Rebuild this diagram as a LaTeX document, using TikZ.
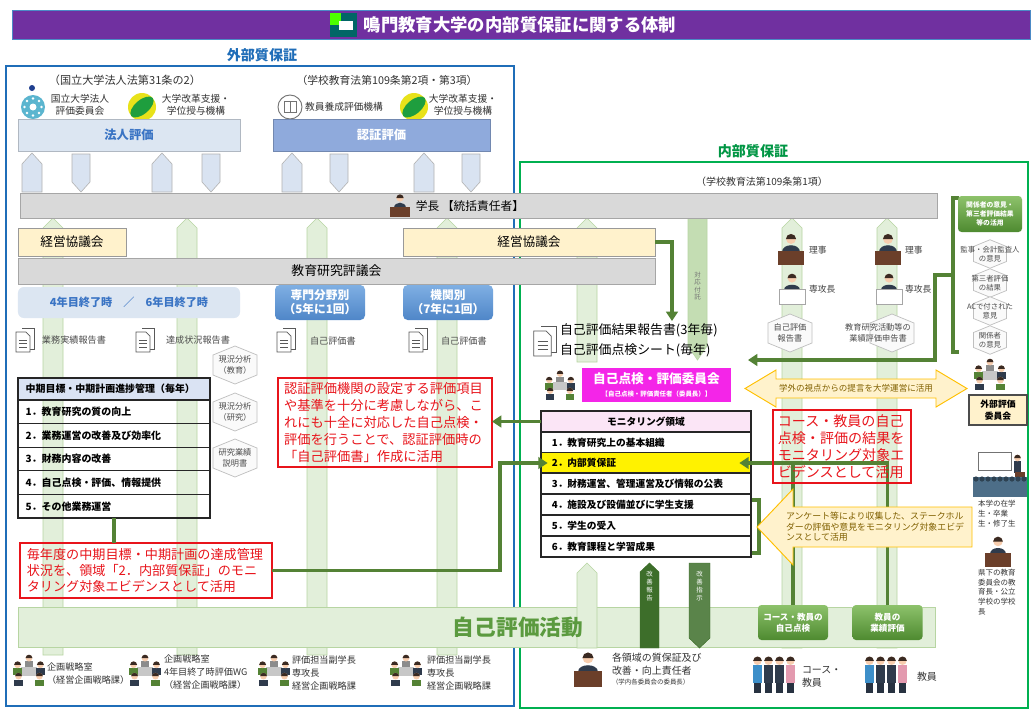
\documentclass[tikz,border=0pt]{standalone}
\usepackage{fontspec}
\setmainfont{Noto Sans CJK JP}
\usetikzlibrary{arrows.meta}

\definecolor{titlepurple}{HTML}{7030A0}
\definecolor{outblue}{HTML}{1F6DB8}
\definecolor{ingreen}{HTML}{00B050}
\definecolor{linkgreen}{HTML}{548235}
\definecolor{palegreen}{HTML}{E2EFDA}
\definecolor{paleedge}{HTML}{B7D5A2}
\definecolor{bandgray}{HTML}{D9D9D9}
\definecolor{cream}{HTML}{FFF2CC}
\definecolor{hojinblue}{HTML}{DCE6F2}
\definecolor{ninblue}{HTML}{8FAADC}
\definecolor{liftblue}{HTML}{D9E3F1}
\definecolor{headblue}{HTML}{3A74C4}
\definecolor{tabhead}{HTML}{DAE3F3}
\definecolor{monhead}{HTML}{FBE5F6}
\definecolor{committee}{HTML}{F425E8}
\definecolor{noteyellow}{HTML}{FFC000}
\definecolor{notefill}{HTML}{FFF2CC}
\definecolor{notetext}{HTML}{806000}
\definecolor{redline}{HTML}{E8141B}
\definecolor{btntop}{HTML}{8DC26B}
\definecolor{btnbot}{HTML}{4E8A30}
\definecolor{kaizen}{HTML}{3D6E2A}
\definecolor{acttext}{HTML}{5B9A3F}
\definecolor{skin}{HTML}{F7CDAE}
\definecolor{hair}{HTML}{3A2A22}
\definecolor{suit}{HTML}{2F3B4C}
\definecolor{desk}{HTML}{6B3F2A}
\definecolor{scrub}{HTML}{3D8FC9}
\definecolor{pinkcoat}{HTML}{E39AAF}
\definecolor{crowd}{HTML}{4D6E88}
\definecolor{niadgreen}{HTML}{1E9E3E}
\definecolor{niadyellow}{HTML}{E8E21A}
\definecolor{jaqblue}{HTML}{5BB5CF}
\definecolor{markblue}{HTML}{1F3F8F}
\definecolor{blueupper}{HTML}{7FAFE3}
\definecolor{bluelower}{HTML}{4F86C8}

\newcommand\fs[2]{\fontsize{#1}{#2}\selectfont}

\begin{document}
\begin{tikzpicture}[x=0.03cm, y=-0.03cm,
  every node/.style={inner sep=0pt, outer sep=0pt},
  band/.style={draw=black!35, fill=bandgray, line width=0.6pt},
  council/.style={draw=black!40, fill=cream, line width=0.6pt, minimum height=0.84cm, font=\fs{10.8}{13}},
  pillar/.style={draw=paleedge, fill=palegreen, line width=0.5pt},
  lift/.style={draw=black!30, fill=liftblue, line width=0.5pt},
  periodbox/.style={rounded corners=4pt, top color=blueupper, bottom color=bluelower, text=white, align=center, font=\fs{10}{12}\bfseries, minimum width=2.7cm, minimum height=1.05cm},
  doclabel/.style={anchor=west, text=black!70, font=\fs{7.8}{9}},
  hexlabel/.style={align=center, text=black!70, font=\fs{7}{9}},
  ltab/.style={draw=black!85, line width=0.9pt, minimum width=5.76cm, minimum height=0.708cm, text width=5.3cm, align=left, font=\fs{8.5}{10}\bfseries},
  mtab/.style={draw=black!85, line width=0.9pt, fill=white, minimum width=6.3cm, minimum height=0.63cm, text width=5.65cm, align=left, font=\fs{8.3}{10}\bfseries},
  rednote/.style={draw=redline, line width=1pt, text=redline, align=left},
  cyclebtn/.style={rounded corners=3pt, top color=btntop, bottom color=btnbot, text=white, align=center, font=\fs{7.3}{9.5}\bfseries, minimum width=2.1cm, minimum height=1.05cm},
  who/.style={anchor=west, align=left, text=black!80, font=\fs{7.8}{11}},
  gline/.style={draw=linkgreen, line width=3pt},
  gtip/.style={-{Triangle[length=8pt,width=10pt]}},
  note/.style={draw=noteyellow, fill=notefill, line width=0.8pt},
  docicon/.pic={
    \draw[black!65, line width=0.6pt, fill=white] (-3,-12) -- (9,-12) -- (9,9) -- (5,9);
    \draw[black!65, line width=0.6pt, fill=white] (-9,-8) -- (1,-8) -- (5,-4) -- (5,12) -- (-9,12) -- cycle;
    \foreach \ly in {0,3.5,7} \draw[black!65, line width=0.6pt] (-6,\ly) -- (2,\ly);
  },
  hexmark/.pic={
    \draw[black!25, fill=black!2, line width=0.6pt] (0,-19) -- (22,-10) -- (22,10) -- (0,19) -- (-22,10) -- (-22,-10) -- cycle;
  },
  boss/.pic={
    \fill[suit] (-8,2) .. controls (-8,-6) and (8,-6) .. (8,2) -- cycle;
    \fill[skin] (0,-10) circle (4.5);
    \fill[hair] (-4.6,-10) arc (180:360:4.6) -- cycle;
    \fill[desk] (-12,1) rectangle (12,14);
  },
  clerk/.pic={
    \fill[suit] (-7,3) .. controls (-7,-4) and (7,-4) .. (7,3) -- cycle;
    \fill[skin] (0,-8) circle (4);
    \fill[hair] (-4.1,-8) arc (180:360:4.1) -- cycle;
    \draw[black!35, fill=white, line width=0.5pt] (-12,2) rectangle (12,16);
  },
  meeting/.pic={
    \fill[black!45] (-4.5,-9) rectangle (4.5,-1);
    \fill[skin] (0,-12.5) circle (3.5);
    \fill[hair] (-3.6,-12.5) arc (180:360:3.6) -- cycle;
    \fill[black!22] (-8,-3) rectangle (8,6);
    \foreach \mx/\my/\mc in {-12/-3/linkgreen, 12/-3/suit, -11/9/suit, 11/9/linkgreen} {
      \fill[\mc] (\mx-4.5,\my+1) rectangle (\mx+4.5,\my+8);
      \fill[skin] (\mx,\my-2.5) circle (3.5);
      \fill[hair] (\mx-3.6,\my-2.5) arc (180:360:3.6) -- cycle;
    }
  },
  staff/.pic={
    \foreach \mx/\mc in {-15/scrub, -5/suit, 5/suit, 15/pinkcoat} {
      \fill[suit!85!black] (\mx-3,7) rectangle (\mx+3,17);
      \fill[\mc] (\mx-4.2,-8) rectangle (\mx+4.2,8);
      \fill[skin] (\mx,-12) circle (3.8);
      \fill[hair] (\mx-3.9,-12) arc (180:360:3.9) -- cycle;
    }
  },
  classroom/.pic={
    \draw[black!55, fill=white, line width=0.7pt] (-22,-26) rectangle (11,-8);
    \fill[suit] (14,-17) rectangle (21,-5);
    \fill[skin] (17.5,-20) circle (3.3);
    \fill[hair] (14.2,-20) arc (180:360:3.3) -- cycle;
    \fill[desk] (15,-6) rectangle (25,0);
    \fill[crowd] (-27,-1) rectangle (27,19);
    \foreach \i in {0,...,8} \fill[crowd!60!black] (-24+\i*6,1) circle (2.6);
  }]
\useasboundingbox (0,0) rectangle (1032,714);
\fill[white] (0,0) rectangle (1032,714);

\node[fill=titlepurple, draw=outblue!80, line width=0.8pt, minimum width=30.54cm, minimum height=0.87cm] (title) at (521,24.5) {};
\fill[teal!80!black] (330,13) rectangle (357,37);
\fill[green!60!lime] (330,13) rectangle (341,25);
\fill[white] (339,21) rectangle (353,30);
\node[text=white, font=\fs{14.8}{17}\bfseries] (titletext) at (520,25) {鳴門教育大学の内部質保証に関する体制};

\node[text=outblue, font=\fs{12}{14}\bfseries] (outer) at (262,55) {外部質保証};
\node[text=ingreen!85!black, font=\fs{12}{14}\bfseries] (inner) at (753,151) {内部質保証};
\draw[outblue, line width=2.4pt] (6,66) rectangle (514,706);
\draw[ingreen, line width=2.4pt] (520,162) rectangle (1028,708);

\node[font=\fs{9.5}{11}, text=black!80] (law1) at (125,80) {（国立大学法人法第31条の2）};
\node[font=\fs{9.2}{11}, text=black!80] (law2) at (387,80) {（学校教育法第109条第2項・第3項）};
\node[font=\fs{8.5}{10}, text=black!80] (law3) at (762,182) {（学校教育法第109条第1項）};

\fill[markblue] (32,88) circle (3);
\fill[jaqblue] (33,107) circle (12);
\foreach \a in {0,45,...,315} \fill[white] (33,107) ++(\a:8.5) circle (1.3);
\fill[white] (33,107) circle (3.5);
\foreach \lx in {142,414} {
  \fill[niadyellow] (\lx,107) circle (14);
  \fill[niadgreen, rotate around={40:(\lx,107)}] (\lx,107) ellipse (14 and 7);
}
\draw[black!55, line width=0.8pt] (290,107) circle (12);
\draw[black!55, line width=0.6pt] (284,101) rectangle (296,112) (290,101) -- (290,112);
\node[align=center, font=\fs{8.3}{10}, text=black!80] (lg1) at (80,105) {国立大学法人\\評価委員会};
\node[align=center, font=\fs{8.3}{10}, text=black!80] (lg2) at (196,105) {大学改革支援・\\学位授与機構};
\node[font=\fs{8.3}{10}, text=black!80] (lg3) at (344,107) {教員養成評価機構};
\node[align=center, font=\fs{8.3}{10}, text=black!80] (lg4) at (463,105) {大学改革支援・\\学位授与機構};

\node[fill=hojinblue, draw=hojinblue!80!black, line width=0.4pt, minimum width=6.66cm, minimum height=0.96cm, text=headblue, font=\fs{10.5}{12}\bfseries] (hojin) at (129,135) {法人評価};
\node[fill=ninblue, draw=ninblue!80!black, line width=0.4pt, minimum width=6.51cm, minimum height=0.96cm, text=white, font=\fs{10.5}{12}\bfseries] (ninteval) at (381.5,135) {認証評価};

\foreach \cx in {32,162,292,424}
  \draw[lift] (\cx,153) -- (\cx+10,164) -- (\cx+10,192) -- (\cx-10,192) -- (\cx-10,164) -- cycle;
\foreach \cx in {81,211,339,471}
  \draw[lift] (\cx-9,154) -- (\cx+9,154) -- (\cx+9,182) -- (\cx,192) -- (\cx-9,182) -- cycle;

\foreach \cx in {53,187,317,447}
  \draw[pillar] (\cx-10,655) -- (\cx-10,228) -- (\cx,218) -- (\cx+10,228) -- (\cx+10,655) -- cycle;
\draw[pillar] (577,362) -- (577,228) -- (587,218) -- (597,228) -- (597,362) -- cycle;
\foreach \cx in {792,887}
  \draw[pillar] (\cx-10,648) -- (\cx-10,228) -- (\cx,218) -- (\cx+10,228) -- (\cx+10,648) -- cycle;
\draw[pillar, fill=paleedge!70!palegreen] (688,218) -- (688,346) -- (697.5,360) -- (707,346) -- (707,218) -- cycle;
\node[align=center, font=\fs{5.5}{6.5}, text=black!55] (taio) at (697.5,286) {対\\応\\付\\託};

\node[band, minimum width=27.51cm, minimum height=0.75cm] (gakucho) at (478.5,205.5) {};
\pic[scale=0.8] at (400,206) {boss};
\node[font=\fs{10}{12}] (gakuchotxt) at (470,206) {学長 【統括責任者】};
\node[council, minimum width=3.24cm] (kaigi1) at (72,242) {経営協議会};
\node[council, minimum width=7.56cm] (kaigi2) at (529,242) {経営協議会};
\node[band, minimum width=19.11cm, minimum height=0.78cm, font=\fs{11}{13}] (hyogikai) at (336.5,271) {教育研究評議会};

\node[rounded corners=5pt, fill=hojinblue, minimum width=6.66cm, minimum height=0.93cm, text=headblue, font=\fs{9.5}{11}\bfseries] (yr46) at (129,302.5) {4年目終了時\quad／\quad6年目終了時};
\node[periodbox] (field) at (320,302.5) {専門分野別\\（5年に1回）};
\node[periodbox] (inst) at (448,302.5) {機関別\\（7年に1回）};

\foreach \dx in {25,145,286,418} \pic at (\dx,340) {docicon};
\pic[scale=1.25] at (545,341) {docicon};
\node[doclabel] (jisseki) at (42,340) {業務実績報告書};
\node[doclabel] (tassei) at (166,340) {達成状況報告書};
\node[doclabel] (self1) at (310,341) {自己評価書};
\node[doclabel] (self2) at (441,341) {自己評価書};

\foreach \hy in {365,412,458} \pic at (235,\hy) {hexmark};
\node[hexlabel] (gen1) at (235,365) {現況分析\\（教育）};
\node[hexlabel] (gen2) at (235,412) {現況分析\\（研究）};
\node[hexlabel] (gen3) at (235,458) {研究業績\\説明書};

\node[ltab, fill=tabhead, minimum height=0.66cm] (ltab0) at (114,389) {中期目標・中期計画進捗管理（毎年）};
\node[ltab] (ltab1) at (114,411.8) {1．教育研究の質の向上};
\node[ltab] (ltab2) at (114,435.4) {2．業務運営の改善及び効率化};
\node[ltab] (ltab3) at (114,459) {3．財務内容の改善};
\node[ltab] (ltab4) at (114,482.6) {4．自己点検・評価、情報提供};
\node[ltab] (ltab5) at (114,506.2) {5．その他業務運営};

\node[rednote, minimum width=6.42cm, minimum height=2.67cm, text width=6.05cm, font=\fs{11.3}{14.4}] (ninsho) at (385,422.5) {認証評価機関の設定する評価項目\\や基準を十分に考慮しながら、こ\\れにも十全に対応した自己点検・\\評価を行うことで、認証評価時の\\「自己評価書」作成に活用};
\node[rednote, minimum width=7.56cm, minimum height=1.65cm, text width=7.15cm, font=\fs{11.2}{14}] (maitoshi) at (146,570.5) {毎年度の中期目標・中期計画の達成管理\\状況を、領域「2．内部質保証」のモニ\\タリング対象エビデンスとして活用};

\node[anchor=west, align=left, font=\fs{11}{17}] (rep) at (560,340) {自己評価結果報告書(3年毎)\\自己評価点検シート(毎年)};
\pic[scale=0.9] at (560,385) {meeting};
\node[fill=committee, minimum width=4.47cm, minimum height=1.02cm, text=white, align=center, font=\fs{10.8}{12}\bfseries] (iinkai) at (656.5,385) {自己点検・評価委員会\\[-1pt]{\fs{5.5}{6.5}【自己点検・評価責任者（委員長）】}};

\node[mtab, fill=monhead, align=center] (mon0) at (646,421.5) {モニタリング領域};
\node[mtab] (mon1) at (646,442.5) {1．教育研究上の基本組織};
\node[mtab, fill=yellow] (mon2) at (646,463) {2．内部質保証};
\node[mtab] (mon3) at (646,483.5) {3．財務運営、管理運営及び情報の公表};
\node[mtab] (mon4) at (646,504.5) {4．施設及び設備並びに学生支援};
\node[mtab] (mon5) at (646,525.5) {5．学生の受入};
\node[mtab] (mon6) at (646,546.5) {6．教育課程と学習成果};
\draw[linkgreen, line width=2.6pt] (752,500) -- (759,500) -- (759,553) -- (752,553);

\pic[scale=1.1] at (791,250) {boss};
\pic[scale=1.1] at (888,250) {boss};
\pic[scale=1.1] at (792,287) {clerk};
\pic[scale=1.1] at (889,287) {clerk};
\node[anchor=west, font=\fs{7.5}{9}, text=black!75] (riji1) at (809,250) {理事};
\node[anchor=west, font=\fs{7.5}{9}, text=black!75] (riji2) at (905,250) {理事};
\node[anchor=west, font=\fs{7.5}{9}, text=black!75] (senko1) at (809,289) {専攻長};
\node[anchor=west, font=\fs{7.5}{9}, text=black!75] (senko2) at (905,289) {専攻長};
\pic at (790,333) {hexmark};
\pic at (892,333) {hexmark};
\node[hexlabel] (selfrep) at (790,333) {自己評価\\報告書};
\node[hexlabel] (gyorep) at (878,333) {教育研究活動等の\\業績評価申告書};

\draw[linkgreen, line width=2.6pt] (959,198) -- (953,198) -- (953,352) -- (959,352);
\draw[linkgreen, line width=2.6pt] (953,275) -- (947,275);
\node[cyclebtn, minimum width=1.92cm, minimum height=1.08cm, font=\fs{5.8}{7.5}\bfseries] (kankei) at (990,214) {関係者の意見・\\第三者評価結果\\等の活用};
\foreach \hy in {254,283,311,340} \pic[scale=0.75] at (990,\hy) {hexmark};
\node[hexlabel, font=\fs{6.3}{8}] (opin1) at (990,254) {監事・会計監査人\\の意見};
\node[hexlabel, font=\fs{6.3}{8}] (opin2) at (990,283) {第三者評価\\の結果};
\node[hexlabel, font=\fs{6.3}{8}] (opin3) at (990,311) {ACで付された\\意見};
\node[hexlabel, font=\fs{6.3}{8}] (opin4) at (990,340) {関係者\\の意見};
\pic[scale=0.95] at (990,374) {meeting};
\node[fill=cream, draw=black!70, line width=1pt, minimum width=1.74cm, minimum height=0.9cm, align=center, font=\fs{7.5}{10}\bfseries] (gaibu) at (998,410) {外部評価\\委員会};
\pic at (1000,478) {classroom};
\node[anchor=west, align=left, font=\fs{6.4}{8.5}, text=black!80] (students) at (978,514) {本学の在学\\生・卒業\\生・修了生};
\pic[scale=1.05] at (998,552) {boss};
\node[anchor=west, align=left, font=\fs{6.4}{8.2}, text=black!80] (boards) at (978,592) {県下の教育\\委員会の教\\育長・公立\\学校の学校\\長};

\node[pillar, minimum width=27.51cm, minimum height=1.2cm] (jikoact) at (476.5,627) {};
\draw[pillar] (587,563) -- (597,573) -- (597,648) -- (577,648) -- (577,573) -- cycle;
\node[text=acttext, font=\fs{18.5}{20}\bfseries] (jikoacttxt) at (518,627) {自己評価活動};
\draw[fill=kaizen, draw=kaizen] (649.5,563) -- (659,572) -- (659,648) -- (640,648) -- (640,572) -- cycle;
\draw[fill=kaizen!85!white, draw=kaizen] (689,563) -- (710,563) -- (710,638) -- (699.5,648) -- (689,638) -- cycle;
\node[align=center, text=white, font=\fs{5.5}{6.6}] (kaizen1) at (649.5,586) {改\\善\\報\\告};
\node[align=center, text=white, font=\fs{5.5}{6.6}] (kaizen2) at (699.5,586) {改\\善\\指\\示};
\node[cyclebtn] (course) at (793,622.5) {コース・教員の\\自己点検};
\node[cyclebtn] (gyoseki) at (887.5,622.5) {教員の\\業績評価};

\pic[scale=0.95] at (29,670) {meeting};
\pic[scale=0.95] at (145,670) {meeting};
\pic[scale=0.95] at (274,670) {meeting};
\pic[scale=0.95] at (406,670) {meeting};
\node[who] (who1) at (47,673.5) {企画戦略室\\（経営企画戦略課）};
\node[who] (who2) at (164,672) {企画戦略室\\4年目終了時評価WG\\（経営企画戦略課）};
\node[who] (who3) at (292,673) {評価担当副学長\\専攻長\\経営企画戦略課};
\node[who] (who4) at (427,673) {評価担当副学長\\専攻長\\経営企画戦略課};
\pic[scale=1.2] at (588,670) {boss};
\node[who, font=\fs{8.5}{10.5}] (who5) at (612,669) {各領域の質保証及び\\改善・向上責任者\\[-2pt]{\fs{5.5}{7}（学内各委員会の委員長）}};
\pic[scale=1.1] at (774,674) {staff};
\node[who, font=\fs{8.5}{10.5}] (who6) at (802,677) {コース・\\教員};
\pic[scale=1.1] at (886,674) {staff};
\node[who, font=\fs{8.5}{10.5}] (who7) at (917,677) {教員};

\coordinate (k1) at (672,321);
\coordinate (m1) at (500,463);
\coordinate (bk) at (947,275);
\coordinate (r0) at (935,360);
\coordinate (r1) at (748,360);
\draw[gline, gtip] (kaigi2.east) -| (k1);
\draw[gline, gtip] (mon0.west) -- (ninsho.east |- mon0.west);
\draw[gline] (ltab5.south) -- (ltab5.south |- maitoshi.north);
\draw[gline, gtip, shorten >=-0.2cm] (maitoshi.east) -| (m1) -- (mon2.west);
\draw[gline] (gyoseki.north) |- (course.north |- mon2.east);
\draw[gline, gtip, shorten >=-0.35cm] (course.north) |- (mon2.east);
\draw[gline, gtip] (bk) -| (r0) -- (r1);

\draw[note] (745,388.5) -- (776,370) -- (776,379) -- (936,379) -- (936,370) -- (967,388.5) -- (936,407) -- (936,398) -- (776,398) -- (776,407) -- cycle;
\node[text=notetext, font=\fs{7.3}{9}] (gakugai) at (856,388.5) {学外の視点からの提言を大学運営に活用};
\draw[note] (757,527) -- (793,489) -- (793,507) -- (972,507) -- (972,547) -- (793,547) -- (793,565) -- cycle;
\node[anchor=west, align=left, text=notetext, font=\fs{7.6}{9}] (anketo) at (786,527) {アンケート等により収集した、ステークホル\\ダーの評価や意見をモニタリング対象エビデ\\ンスとして活用};
\node[rednote, minimum width=4.14cm, minimum height=2.19cm, text width=3.85cm, font=\fs{12}{14.5}] (coursenote) at (842,446.5) {コース・教員の自己\\点検・評価の結果を\\モニタリング対象エ\\ビデンスとして活用};
\end{tikzpicture}
\end{document}
